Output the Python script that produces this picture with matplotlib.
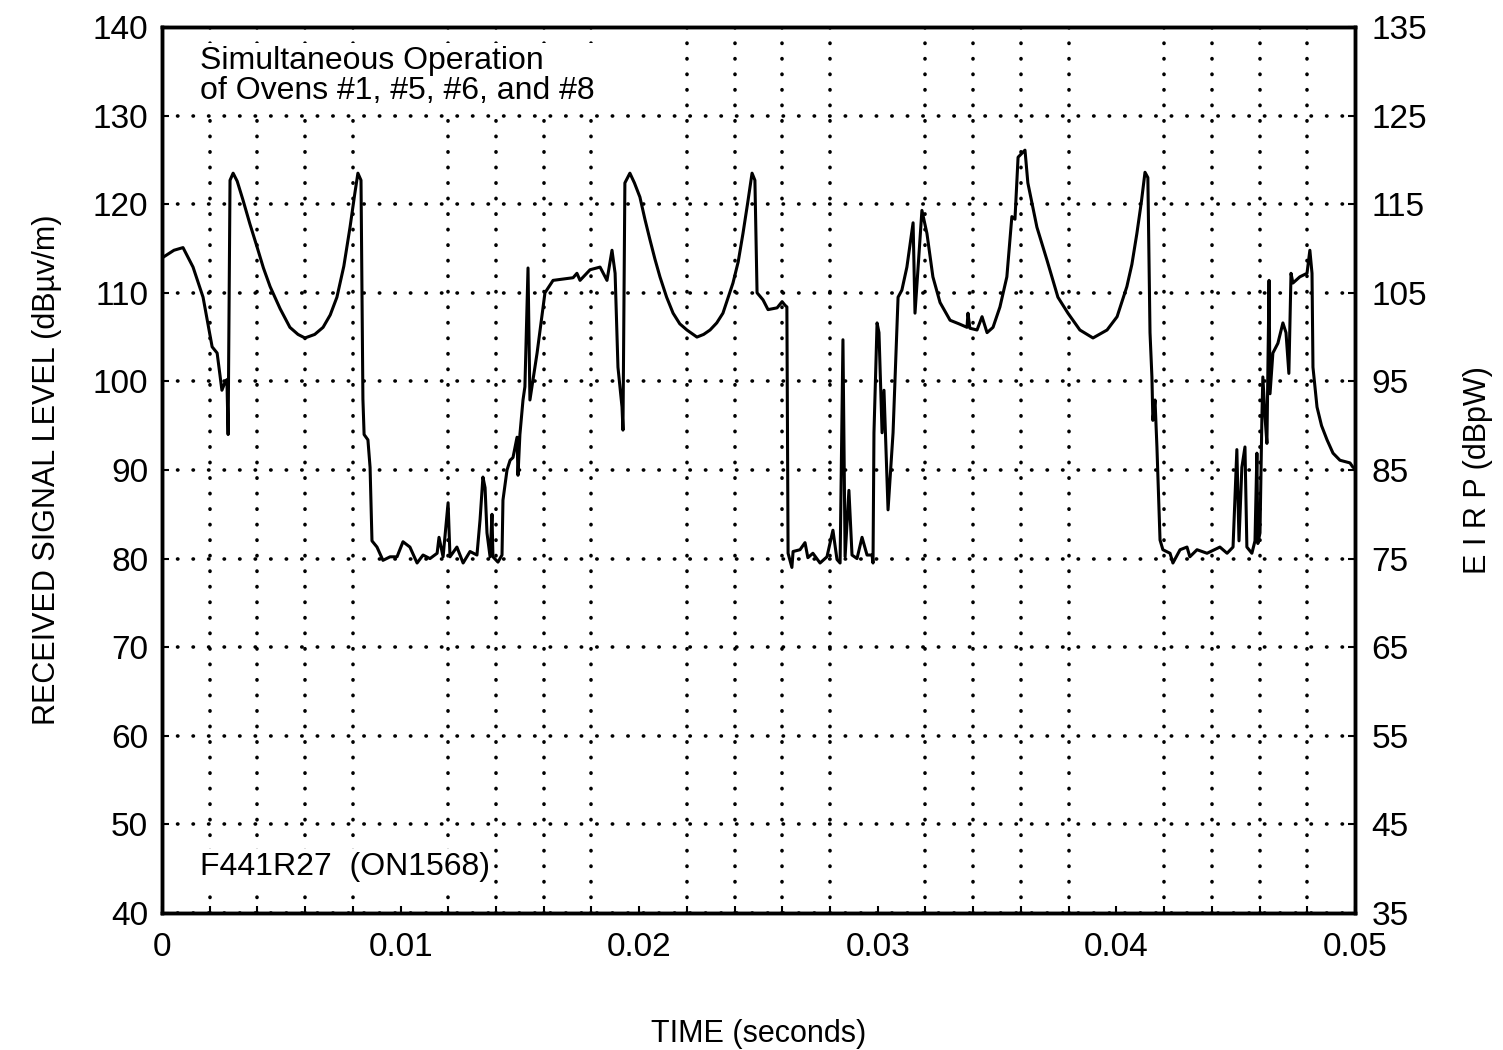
import numpy as np
import matplotlib.pyplot as plt
from matplotlib import font_manager

# Familia de letra estrecha, si está disponible
nombres = {f.name for f in font_manager.fontManager.ttflist}
familia = 'Liberation Sans Narrow' if 'Liberation Sans Narrow' in nombres else 'Liberation Sans'
plt.rcParams['font.family'] = [familia, 'DejaVu Sans']

# Datos: tiempo (ms) y nivel de señal recibido (dBuV/m)
tiempo_ms = [
    0.00, 0.04, 0.50, 0.88, 1.30, 1.72, 2.10, 2.31, 2.51, 2.64, 2.72, 2.77, 2.85, 2.98,
    3.15, 3.39, 3.68, 3.98, 4.25, 4.53, 4.95, 5.36, 5.70, 5.99, 6.40, 6.75, 7.05, 7.33,
    7.62, 7.88, 8.08, 8.21, 8.34, 8.42, 8.47, 8.63,
    8.72, 8.80, 9.01, 9.26, 9.56, 9.85, 10.10, 10.39, 10.69, 10.94, 11.23, 11.53,
    11.61, 11.78, 11.99, 12.07, 12.36, 12.62, 12.91, 13.20, 13.33, 13.45, 13.54,
    13.62, 13.75, 13.83, 13.87, 14.08, 14.25, 14.29, 14.46, 14.59, 14.71, 14.88,
    14.92, 15.00, 15.13, 15.21, 15.34, 15.42, 15.72, 16.05, 16.39, 17.23, 17.39,
    17.52, 17.94, 18.36, 18.65, 18.86, 18.99, 19.11, 19.28, 19.32, 19.40, 19.61,
    19.80, 20.03, 20.24, 20.45, 20.66, 20.87, 21.15, 21.42, 21.70, 22.00, 22.42,
    22.70, 22.97, 23.25, 23.51, 23.93, 24.15, 24.35, 24.55, 24.73,
    24.85, 24.94, 25.19, 25.40, 25.78, 25.99, 26.11, 26.19, 26.24, 26.40, 26.45,
    26.74, 26.95, 27.07, 27.28, 27.58, 27.87, 28.12, 28.29, 28.42, 28.54, 28.63,
    28.79, 28.92, 29.13, 29.34, 29.55, 29.76, 29.80, 29.84, 29.97, 30.05, 30.18,
    30.26, 30.43, 30.64, 30.85, 31.01, 31.22, 31.48, 31.56, 31.85, 32.06, 32.31,
    32.61, 33.03, 33.40, 33.74, 33.78, 33.86, 34.16, 34.37, 34.58, 34.83, 35.12, 35.41,
    35.62, 35.75, 35.88, 36.17, 36.29, 36.67, 37.09, 37.55, 37.97, 38.47, 39.02,
    39.61, 40.03, 40.44, 40.65, 40.86, 41.05, 41.20, 41.32, 41.41, 41.49, 41.53, 41.62, 41.70,
    41.83, 41.95, 42.25, 42.37, 42.67, 42.96, 43.08, 43.38, 43.80, 44.34, 44.64,
    44.89, 45.05, 45.14, 45.26, 45.39, 45.47, 45.68, 45.81, 45.89, 45.93, 46.02,
    46.10, 46.14, 46.23, 46.31, 46.40, 46.44, 46.56, 46.77, 46.98, 47.11, 47.23,
    47.32, 47.40, 47.69, 47.99, 48.11, 48.20, 48.24, 48.41, 48.60, 48.83, 49.08, 49.37,
    49.79, 49.92, 50.00,
]
nivel_dbuv = [
    113.8, 114.0, 114.8, 115.1, 112.9, 109.5, 103.9, 103.2, 99.0, 99.9, 100.2, 94.0, 122.7, 123.5,
    122.6, 120.5, 117.8, 115.2, 112.8, 110.7, 108.2, 106.1, 105.3, 104.9, 105.3, 106.1, 107.5, 109.5,
    113.0, 117.4, 121.2, 123.5, 122.7, 98.0, 94.0, 93.4,
    90.3, 82.0, 81.3, 79.8, 80.2, 80.2, 81.9, 81.3, 79.5, 80.4, 80.0, 80.6,
    82.4, 80.2, 86.3, 80.2, 81.3, 79.5, 80.8, 80.4, 84.4, 89.2, 88.0,
    82.9, 80.2, 85.0, 80.2, 79.6, 80.4, 86.6, 90.0, 91.1, 91.4, 93.7,
    89.4, 94.0, 97.9, 99.4, 112.8, 97.9, 103.2, 110.0, 111.4, 111.7, 112.2,
    111.4, 112.6, 112.9, 111.4, 114.8, 112.2, 101.6, 97.1, 94.5, 122.4, 123.5,
    122.4, 120.8, 118.3, 116.0, 113.8, 111.8, 109.5, 107.7, 106.5, 105.8, 105.0,
    105.3, 105.8, 106.6, 107.7, 111.1, 113.5, 116.7, 120.2, 123.5,
    122.7, 110.0, 109.2, 108.1, 108.3, 109.0, 108.6, 108.4, 80.6, 79.0, 80.8,
    81.0, 81.8, 80.1, 80.6, 79.5, 80.2, 83.2, 79.9, 79.5, 104.7, 80.2,
    87.7, 80.4, 80.0, 82.4, 80.4, 80.4, 79.5, 94.2, 106.6, 105.5, 94.2,
    99.0, 85.5, 94.2, 109.5, 110.3, 112.9, 117.9, 107.7, 119.3, 116.7, 111.8,
    108.9, 106.9, 106.5, 106.1, 107.7, 106.0, 105.8, 107.3, 105.5, 106.1, 108.4, 111.8,
    118.6, 118.3, 125.3, 126.1, 122.4, 117.4, 113.7, 109.5, 107.7, 105.8, 104.9,
    105.8, 107.3, 110.7, 113.2, 116.7, 120.3, 123.6, 123.0, 105.5, 100.5, 95.6, 97.9, 92.6,
    82.1, 81.0, 80.6, 79.5, 81.0, 81.3, 80.2, 81.0, 80.6, 81.3, 80.6,
    81.3, 92.3, 82.0, 90.3, 92.6, 81.3, 80.6, 82.0, 91.9, 81.7, 82.9,
    96.0, 100.5, 96.0, 93.0, 111.4, 98.6, 103.2, 104.3, 106.6, 105.5, 100.9,
    112.2, 111.1, 111.8, 112.2, 114.8, 112.2, 101.6, 97.1, 95.0, 93.4, 91.9, 91.1,
    90.8, 90.3, 90.2,
]

ticks_x = [0, 0.01, 0.02, 0.03, 0.04, 0.05]
etiquetas_x = ['0', '0.01', '0.02', '0.03', '0.04', '0.05']
ticks_izq = list(range(40, 141, 10))
ticks_der = list(range(35, 136, 10))

t = np.array(tiempo_ms) / 1000.0

fig = plt.figure(figsize=(15.03, 10.5), dpi=100)
ax = fig.add_axes([0.1078, 0.1305, 0.7937, 0.8438])

ax.plot(t, nivel_dbuv, color='black', lw=2.2, zorder=3, solid_joinstyle='round')

ax.set_xlim(0, 0.05)
ax.set_ylim(40, 140)
ax.set_xticks(ticks_x)
ax.set_xticklabels(etiquetas_x)
ax.set_xticks(np.arange(0, 0.0501, 0.002), minor=True)
ax.set_yticks(ticks_izq)

# Cuadrícula punteada
estilo = dict(color='black', lw=2.6, linestyle=(0, (0.1, 4.2)), dash_capstyle='round')
ax.grid(True, which='minor', axis='x', **estilo)
ax.grid(True, which='major', axis='y', **estilo)
ax.set_axisbelow(True)

for s in ax.spines.values():
    s.set_linewidth(2.5)

ax.tick_params(axis='both', which='both', direction='in', length=5, width=1.5,
               labelsize=24)
ax.tick_params(axis='x', which='major', pad=14)
ax.tick_params(axis='y', pad=10)

ax.set_xlabel('TIME (seconds)', fontsize=22, labelpad=40)
ax.set_ylabel('RECEIVED SIGNAL LEVEL (dBµv/m)', fontsize=22, labelpad=22)

ax2 = ax.twinx()
ax2.set_ylim(35, 135)
ax2.set_yticks(ticks_der)
ax2.tick_params(axis='y', direction='in', length=5, width=1.5, labelsize=24, pad=12)
for s in ax2.spines.values():
    s.set_linewidth(2.5)
ax2.set_ylabel('E I R P (dBpW)', fontsize=22, labelpad=26)

caja = dict(facecolor='white', edgecolor='none', pad=2)
ax.text(0.032, 0.979, 'Simultaneous Operation\nof Ovens #1, #5, #6, and #8',
        transform=ax.transAxes, fontsize=23, va='top', ha='left',
        linespacing=1.0, bbox=caja, zorder=4)
ax.text(0.032, 0.035, 'F441R27  (ON1568)', transform=ax.transAxes,
        fontsize=23, va='bottom', ha='left', bbox=caja, zorder=4)

fig.savefig('out.png', dpi=100, facecolor='white')
